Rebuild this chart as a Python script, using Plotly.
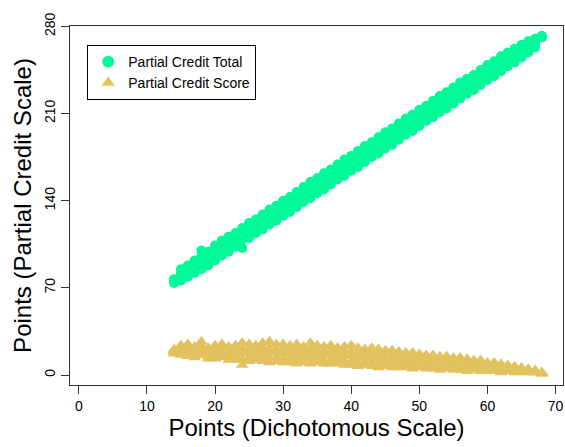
import plotly.graph_objects as go

x_vals = list(range(14, 69))

total_lo = [74, 76, 79, 82, 85, 88, 92, 96, 99, 103, 102, 110, 114, 117, 121, 124, 128, 131, 135, 139,
            142, 146, 149, 153, 157, 160, 164, 167, 171, 175, 178, 182, 185, 189, 193, 196, 200, 204, 207, 211,
            214, 218, 222, 226, 229, 233, 237, 240, 244, 248, 251, 255, 259, 263, 272]
total_q1 = [75, 78, 81, 85, 88, 92, 95, 99, 102, 106, 109, 113, 117, 120, 124, 127, 131, 135, 138, 142,
            145, 149, 153, 156, 160, 163, 167, 171, 174, 178, 182, 185, 189, 192, 196, 200, 203, 207, 211, 214,
            218, 221, 225, 229, 232, 236, 240, 243, 247, 251, 254, 258, 262, 266, 271]
total_mid = [76, 80, 83, 87, 91, 94, 98, 101, 105, 109, 112, 116, 120, 123, 127, 130, 134, 138, 141, 145,
             148, 152, 156, 159, 163, 167, 170, 174, 177, 181, 185, 188, 192, 196, 199, 203, 206, 210, 214, 217,
             221, 225, 228, 232, 235, 239, 243, 246, 250, 254, 257, 261, 264, 268, 272]
total_q3 = [76, 82, 86, 90, 95, 97, 101, 105, 108, 112, 115, 119, 123, 126, 130, 133, 137, 141, 144, 148,
            151, 155, 159, 162, 166, 170, 173, 177, 180, 184, 188, 191, 195, 199, 202, 206, 209, 213, 217, 220,
            224, 228, 231, 235, 238, 242, 246, 249, 253, 256, 260, 263, 266, 269, 272]
total_hi = [77, 85, 88, 92, 100, 99, 104, 108, 111, 114, 118, 122, 125, 129, 133, 136, 140, 143, 147, 151,
            155, 158, 162, 165, 169, 173, 176, 180, 184, 187, 191, 195, 198, 202, 206, 209, 213, 216, 220, 224,
            227, 231, 235, 238, 241, 245, 249, 252, 256, 259, 262, 265, 268, 270, 272]

score_lo = [17, 16, 15, 14, 16, 13, 13, 14, 12, 12, 8, 11, 12, 11, 10, 11, 10, 10, 9, 10,
            9, 10, 9, 9, 9, 8, 8, 7, 8, 7, 6, 7, 6, 6, 6, 5, 6, 5, 5, 4,
            5, 4, 4, 3, 4, 3, 3, 3, 2, 3, 2, 2, 2, 2, 1]
score_q1 = [18, 18, 17, 16, 18, 15, 16, 17, 15, 15, 12, 14, 15, 15, 14, 14, 13, 13, 13, 13,
            13, 13, 12, 12, 12, 11, 11, 10, 11, 10, 9, 10, 9, 9, 9, 8, 8, 8, 7, 7,
            7, 6, 6, 5, 6, 5, 5, 4, 4, 4, 3, 3, 3, 2, 1]
score_mid = [19, 20, 20, 19, 21, 18, 19, 20, 18, 18, 17, 18, 18, 19, 18, 18, 17, 17, 17, 16,
             17, 16, 16, 16, 15, 15, 15, 14, 14, 14, 13, 13, 13, 12, 12, 11, 11, 11, 10, 10,
             10, 9, 9, 8, 8, 7, 7, 6, 6, 5, 5, 4, 4, 3, 2]
score_q3 = [20, 22, 22, 21, 24, 20, 21, 22, 21, 21, 21, 21, 21, 22, 22, 21, 21, 20, 21, 19,
            21, 20, 19, 20, 18, 19, 19, 18, 17, 18, 17, 16, 16, 15, 15, 14, 14, 13, 13, 12,
            12, 11, 11, 10, 10, 9, 8, 8, 7, 6, 6, 5, 4, 3, 2]
score_hi = [21, 24, 25, 23, 27, 22, 24, 25, 23, 24, 26, 25, 24, 26, 27, 25, 25, 24, 25, 23,
            26, 24, 23, 24, 22, 23, 24, 22, 21, 22, 21, 20, 20, 19, 18, 18, 17, 16, 16, 15,
            15, 14, 14, 13, 12, 12, 10, 10, 9, 8, 7, 6, 5, 4, 2]

x_ticks = [0, 10, 20, 30, 40, 50, 60, 70]
y_ticks = [0, 70, 140, 210, 280]

green = "#00FA9A"
gold = "#E2C25E"

total_sets = [total_lo, total_q1, total_mid, total_q3, total_hi]
score_sets = [score_lo, score_q1, score_mid, score_q3, score_hi]
for s in total_sets + score_sets:
    assert len(s) == len(x_vals)

xs = x_vals * 5
fig = go.Figure()
fig.add_trace(go.Scatter(
    x=xs, y=sum(total_sets, []), mode="markers",
    name="Partial Credit Total",
    marker=dict(symbol="circle", size=10, color=green, line=dict(width=0)),
))
fig.add_trace(go.Scatter(
    x=xs, y=sum(score_sets, []), mode="markers",
    name="Partial Credit Score",
    marker=dict(symbol="triangle-up", size=11, color=gold, line=dict(width=0)),
))

font_family = "Liberation Sans, Arial, sans-serif"
fig.update_layout(
    width=565, height=447,
    margin=dict(l=70, r=2, t=26, b=62),
    paper_bgcolor="white", plot_bgcolor="white",
    font=dict(family=font_family, color="black"),
    showlegend=True,
    legend=dict(
        x=0.035, y=0.947, xanchor="left", yanchor="top",
        bgcolor="white", bordercolor="black", borderwidth=1,
        font=dict(size=14, family=font_family),
        itemsizing="constant", tracegroupgap=0,
    ),
)
fig.update_xaxes(
    range=[-1.3, 71.1], tickvals=x_ticks, ticktext=[str(v) for v in x_ticks],
    showgrid=False, zeroline=False, showline=True, linecolor="#333", linewidth=1, mirror=True,
    ticks="outside", ticklen=8, tickcolor="#333", tickfont=dict(size=14),
    title=dict(text="Points (Dichotomous Scale)", font=dict(size=24), standoff=6),
)
fig.update_yaxes(
    range=[-8, 280.3], tickvals=y_ticks, ticktext=[str(v) for v in y_ticks],
    showgrid=False, zeroline=False, showline=True, linecolor="#333", linewidth=1, mirror=True,
    ticks="outside", ticklen=8, tickcolor="#333", tickfont=dict(size=14), tickangle=-90,
    title=dict(text="Points (Partial Credit Scale)", font=dict(size=24), standoff=4),
)

fig.write_html("out.html")
